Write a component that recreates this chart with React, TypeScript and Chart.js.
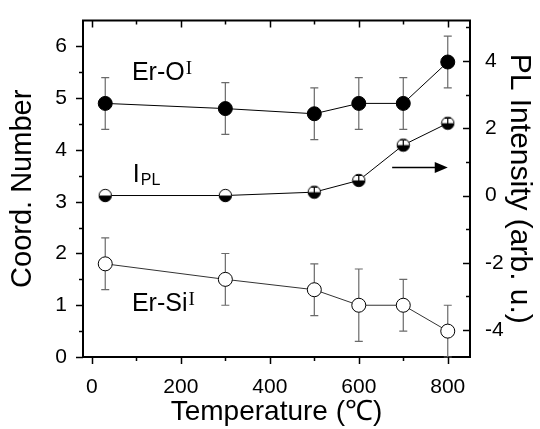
import React, { useEffect, useRef } from 'react';
import { Chart, registerables } from 'chart.js';

Chart.register(...registerables);

// ---------- data ----------
const temperatures = [30, 300, 500, 600, 700, 800];
const erO = [4.9, 4.8, 4.7, 4.9, 4.9, 5.7];
const erOErr = [0.5, 0.5, 0.5, 0.5, 0.5, 0.5];
const erSi = [1.8, 1.5, 1.3, 1.0, 1.0, 0.5];
const erSiErr = [0.5, 0.5, 0.5, 0.7, 0.5, 0.5];
const plIntensity = [0, 0, 0.1, 0.45, 1.5, 2.15];
const plErr = [0, 0, 0.15, 0.15, 0.15, 0.15];

const xMajorTicks = [0, 200, 400, 600, 800];
const xMinorTicks = [100, 300, 500, 700];
const yMajorTicks = [0, 1, 2, 3, 4, 5, 6];
const yMinorTicks = [0.5, 1.5, 2.5, 3.5, 4.5, 5.5];
const y2MajorTicks = [-4, -2, 0, 2, 4];
const y2MinorTicks = [-3, -1, 1, 3, 5];

const FONT = "'Liberation Sans', Arial, Helvetica, sans-serif";
const SERIF = "'Liberation Serif', 'Times New Roman', serif";

function halfCircle(): HTMLCanvasElement {
  const c = document.createElement('canvas');
  c.width = 15;
  c.height = 15;
  const g = c.getContext('2d')!;
  const cx = 7.5, cy = 7.5, r = 6.2;
  g.beginPath();
  g.arc(cx, cy, r, 0, Math.PI * 2);
  g.fillStyle = '#fff';
  g.fill();
  g.beginPath();
  g.arc(cx, cy, r, 0, Math.PI);
  g.closePath();
  g.fillStyle = '#000';
  g.fill();
  g.beginPath();
  g.arc(cx, cy, r, 0, Math.PI * 2);
  g.strokeStyle = '#000';
  g.lineWidth = 1;
  g.stroke();
  return c;
}

function drawErrors(chart: any, indices: number[]) {
  const ctx = chart.ctx;
  indices.forEach((i) => {
    const ds = chart.data.datasets[i];
    const errs: number[] = ds.errors;
    if (!errs) return;
    const meta = chart.getDatasetMeta(i);
    const ys = chart.scales[meta.yAxisID];
    const xs = chart.scales[meta.xAxisID];
    ctx.save();
    ctx.strokeStyle = ds.errorColor || '#666';
    ctx.lineWidth = 1.2;
    ds.data.forEach((p: any, j: number) => {
      const e = errs[j];
      if (!e) return;
      const x = xs.getPixelForValue(p.x);
      const yt = ys.getPixelForValue(p.y + e);
      const yb = ys.getPixelForValue(p.y - e);
      const cap = ds.capHalf ?? 4;
      ctx.beginPath();
      ctx.moveTo(x, yt);
      ctx.lineTo(x, yb);
      ctx.moveTo(x - cap, yt);
      ctx.lineTo(x + cap, yt);
      ctx.moveTo(x - cap, yb);
      ctx.lineTo(x + cap, yb);
      ctx.stroke();
    });
    ctx.restore();
  });
}

const errorBarsPlugin = {
  id: 'errorBars',
  beforeDatasetsDraw(chart: any) {
    drawErrors(chart, [0, 1]);
  },
  afterDatasetsDraw(chart: any) {
    drawErrors(chart, [2]);
  },
};

const frameAndAnnotations = {
  id: 'frameAndAnnotations',
  afterDraw(chart: any) {
    const ctx = chart.ctx;
    const { left, right, top, bottom } = chart.chartArea;
    const x = chart.scales.x;
    const y = chart.scales.y;
    const y2 = chart.scales.y2;
    ctx.save();
    ctx.strokeStyle = '#000';
    ctx.lineWidth = 2;
    // top border
    ctx.beginPath();
    ctx.moveTo(left - 1, top);
    ctx.lineTo(right + 1, top);
    ctx.stroke();
    ctx.lineWidth = 1.5;
    const MAJ = 7, MIN = 4;
    // x ticks: bottom outward, top inward
    const xt = (v: number, len: number) => {
      const px = Math.round(x.getPixelForValue(v)) + 0.5;
      ctx.beginPath();
      ctx.moveTo(px, bottom);
      ctx.lineTo(px, bottom + len);
      ctx.moveTo(px, top);
      ctx.lineTo(px, top + len);
      ctx.stroke();
    };
    xMajorTicks.forEach((v) => xt(v, MAJ));
    xMinorTicks.forEach((v) => xt(v, MIN));
    // left ticks outward
    const yt = (v: number, len: number) => {
      const py = Math.round(y.getPixelForValue(v)) + 0.5;
      ctx.beginPath();
      ctx.moveTo(left, py);
      ctx.lineTo(left - len, py);
      ctx.stroke();
    };
    yMajorTicks.forEach((v) => yt(v, MAJ));
    yMinorTicks.forEach((v) => yt(v, MIN));
    // right ticks inward
    const y2t = (v: number, len: number) => {
      const py = Math.round(y2.getPixelForValue(v)) + 0.5;
      ctx.beginPath();
      ctx.moveTo(right, py);
      ctx.lineTo(right - len, py);
      ctx.stroke();
    };
    y2MajorTicks.forEach((v) => y2t(v, MAJ));
    y2MinorTicks.forEach((v) => y2t(v, MIN));

    // annotations
    ctx.fillStyle = '#000';
    ctx.textBaseline = 'alphabetic';
    ctx.textAlign = 'left';
    const label = (main: string, tx: number, ty: number, extra: string, sub: boolean) => {
      const px = x.getPixelForValue(tx);
      const py = y.getPixelForValue(ty);
      ctx.font = `25px ${FONT}`;
      ctx.fillText(main, px, py);
      const w = ctx.measureText(main).width;
      if (sub) {
        ctx.font = `16px ${FONT}`;
        ctx.fillText(extra, px + w + 1, py + 3);
      } else {
        ctx.font = `19px ${SERIF}`;
        ctx.fillText(extra, px + w + 1, py - 6);
      }
    };
    label('Er-O', 90, 5.36, 'I', false);
    label('I', 92, 3.39, 'PL', true);
    label('Er-Si', 90, 0.89, 'I', false);

    // arrow
    const ax0 = x.getPixelForValue(675);
    const ax1 = x.getPixelForValue(800);
    const ay = y.getPixelForValue(3.66);
    ctx.lineWidth = 1.5;
    ctx.beginPath();
    ctx.moveTo(ax0, ay);
    ctx.lineTo(ax1 - 12, ay);
    ctx.stroke();
    ctx.beginPath();
    ctx.moveTo(ax1, ay);
    ctx.lineTo(ax1 - 13, ay - 5.5);
    ctx.lineTo(ax1 - 13, ay + 5.5);
    ctx.closePath();
    ctx.fill();
    ctx.restore();
  },
};

export default function App() {
  const ref = useRef<HTMLCanvasElement | null>(null);

  useEffect(() => {
    if (!ref.current) return;
    const half = halfCircle();
    const chart = new Chart(ref.current, {
      type: 'scatter',
      data: {
        datasets: [
          {
            label: 'Er-O',
            data: temperatures.map((t, i) => ({ x: t, y: erO[i] })),
            yAxisID: 'y',
            showLine: true,
            borderColor: '#000',
            borderWidth: 1,
            pointRadius: 7,
            pointBackgroundColor: '#000',
            pointBorderColor: '#000',
            pointBorderWidth: 1,
            errors: erOErr,
            errorColor: '#6a6a6a',
          } as any,
          {
            label: 'Er-Si',
            data: temperatures.map((t, i) => ({ x: t, y: erSi[i] })),
            yAxisID: 'y',
            showLine: true,
            borderColor: '#333',
            borderWidth: 1,
            pointRadius: 7,
            pointBackgroundColor: '#fff',
            pointBorderColor: '#000',
            pointBorderWidth: 1,
            errors: erSiErr,
            errorColor: '#6a6a6a',
          } as any,
          {
            label: 'PL',
            data: temperatures.map((t, i) => ({ x: t, y: plIntensity[i] })),
            yAxisID: 'y2',
            showLine: true,
            borderColor: '#000',
            borderWidth: 1,
            pointStyle: half,
            pointRadius: 7,
            errors: plErr,
            errorColor: '#000',
            capHalf: 3,
          } as any,
        ],
      },
      options: {
        animation: false,
        responsive: false,
        layout: { padding: { top: 8, left: 0, right: 0, bottom: 0 } },
        plugins: {
          legend: { display: false },
          tooltip: { enabled: false },
        },
        scales: {
          x: {
            type: 'linear',
            min: -20,
            max: 850,
            grid: { display: false },
            border: { display: true, color: '#000', width: 2 },
            afterBuildTicks: (s: any) => {
              s.ticks = xMajorTicks.map((v) => ({ value: v }));
            },
            afterFit: (s: any) => {
              s.height = 72;
            },
            ticks: {
              color: '#000',
              font: { family: FONT, size: 21 },
              padding: 10,
              maxRotation: 0,
              autoSkip: false,
            },
            title: {
              display: true,
              text: 'Temperature (℃)',
              color: '#000',
              font: { family: FONT, size: 28 },
              padding: { top: 0, bottom: 0 },
            },
          },
          y: {
            type: 'linear',
            position: 'left',
            min: 0,
            max: 6.5,
            grid: { display: false },
            border: { display: true, color: '#000', width: 2 },
            afterBuildTicks: (s: any) => {
              s.ticks = yMajorTicks.map((v) => ({ value: v }));
            },
            afterFit: (s: any) => {
              s.width = 83;
            },
            ticks: {
              color: '#000',
              font: { family: FONT, size: 21 },
              padding: 8,
            },
            title: {
              display: true,
              text: 'Coord. Number',
              color: '#000',
              font: { family: FONT, size: 29 },
              padding: { top: 6, bottom: 0 },
            },
          },
          y2: {
            type: 'linear',
            position: 'right',
            min: -4.8,
            max: 5.2,
            grid: { display: false },
            border: { display: true, color: '#000', width: 2 },
            afterBuildTicks: (s: any) => {
              s.ticks = y2MajorTicks.map((v) => ({ value: v }));
            },
            afterFit: (s: any) => {
              s.width = 70;
            },
            ticks: {
              color: '#000',
              font: { family: FONT, size: 21 },
              padding: 7,
            },
            title: {
              display: true,
              text: 'PL Intensity (arb. u.)',
              color: '#000',
              font: { family: FONT, size: 30 },
              padding: { top: 3, bottom: 0 },
            },
          },
        },
      },
      plugins: [errorBarsPlugin, frameAndAnnotations],
    });
    return () => chart.destroy();
  }, []);

  return (
    <div style={{ position: 'absolute', left: 0, top: 0, width: 540, height: 429, background: '#fff' }}>
      <canvas ref={ref} width={540} height={429} style={{ display: 'block' }} />
    </div>
  );
}
